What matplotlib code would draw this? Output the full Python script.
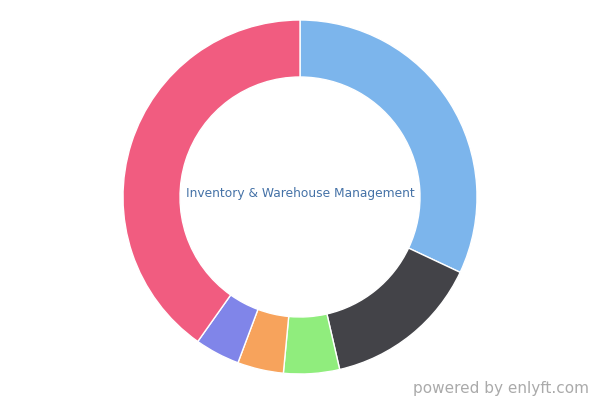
import matplotlib
matplotlib.use("Agg")
import matplotlib.pyplot as plt

# share of each slice (percent), clockwise from 12 o'clock
labels = ["Blue", "Dark", "Green", "Orange", "Purple", "Pink"]
shares = [32.0, 14.4, 5.1, 4.2, 4.1, 40.2]
colors = ["#7cb5ec", "#434348", "#90ed7d", "#f7a35c", "#8085e9", "#f15c80"]

fig = plt.figure(figsize=(6, 4), dpi=100)
ax = fig.add_axes([0, 0, 1, 1])

ax.pie(
    shares,
    colors=colors,
    startangle=90,
    counterclock=False,
    center=(300, 203),
    radius=177,
    wedgeprops=dict(width=57, edgecolor="white", linewidth=1.0),
    frame=True,
)
ax.set_xlim(0, 600)
ax.set_ylim(0, 400)
ax.set_aspect("equal")
ax.axis("off")

ax.text(300, 207, "Inventory & Warehouse Management", ha="center", va="center",
        fontsize=8.8, color="#4572a7")
ax.text(589, 12, "powered by enlyft.com", ha="right", va="center",
        fontsize=11, color="#aaaaaa")

fig.savefig("out.png", dpi=100)
